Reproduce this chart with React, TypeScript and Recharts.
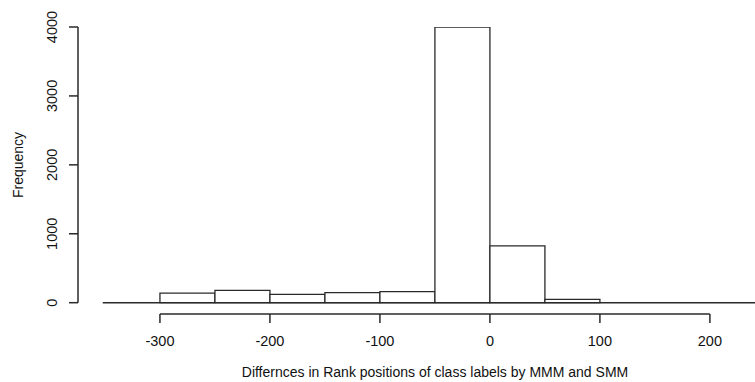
import React from 'react';
import { BarChart, Bar, XAxis, YAxis, ReferenceLine } from 'recharts';

const binMids = [-275, -225, -175, -125, -75, -25, 25, 75];
const frequencies = [140, 180, 120, 145, 160, 4000, 825, 48];
const xTicks = [-300, -200, -100, 0, 100, 200];
const yTicks = [0, 1000, 2000, 3000, 4000];
const xTitle = 'Differnces in Rank positions of class labels by MMM and SMM';
const yTitle = 'Frequency';

const data = binMids.map((m, i) => ({ mid: m, freq: frequencies[i] }));

const FONT = '"Liberation Sans", Arial, Helvetica, sans-serif';
const INK = '#2a2a2a';
const TXT = '#111';

const XTick = (props: any) => {
  const { x, y, payload } = props;
  return (
    <text x={x} y={y + 16} textAnchor="middle" dominantBaseline="central" fontFamily={FONT} fontSize={14.5} fill={TXT}>
      {payload.value}
    </text>
  );
};

const YTick = (props: any) => {
  const { x, y, payload } = props;
  const cx = x - 17;
  return (
    <text x={cx} y={y} textAnchor="middle" dominantBaseline="central" fontFamily={FONT} fontSize={14.5} fill={TXT} transform={`rotate(-90 ${cx} ${y})`}>
      {payload.value}
    </text>
  );
};

export default function App() {
  return (
    <div style={{ position: 'absolute', left: 0, top: 0, background: '#fff' }}>
      <BarChart
        width={755}
        height={382}
        data={data}
        margin={{ top: 27, right: 0, bottom: 0, left: 0 }}
        barCategoryGap={0}
        barGap={0}
      >
        <XAxis
          dataKey="mid"
          type="number"
          domain={[-374.5, 241]}
          allowDataOverflow
          ticks={xTicks}
          interval={0}
          height={68}
          axisLine={false}
          tickLine={{ stroke: INK, strokeWidth: 1.5 }}
          tickSize={9}
          tickMargin={2}
          tick={<XTick />}
          label={{
            content: () => (
              <text x={435} y={372} textAnchor="middle" dominantBaseline="central" fontFamily={FONT} fontSize={14} fill={TXT}>
                {xTitle}
              </text>
            ),
          }}
        />
        <YAxis
          type="number"
          domain={[-164, 4000]}
          allowDataOverflow
          ticks={yTicks}
          interval={0}
          width={78}
          axisLine={false}
          tickLine={{ stroke: INK, strokeWidth: 1.5 }}
          tickSize={9}
          tickMargin={0}
          tick={<YTick />}
          label={{
            content: () => (
              <text x={18} y={165} textAnchor="middle" dominantBaseline="central" fontFamily={FONT} fontSize={14} fill={TXT} transform="rotate(-90 18 165)">
                {yTitle}
              </text>
            ),
          }}
        />
        <ReferenceLine segment={[{ x: -374.5, y: 0 }, { x: -374.5, y: 4000 }]} stroke={INK} strokeWidth={1.5} />
        <ReferenceLine segment={[{ x: -300, y: -164 }, { x: 200, y: -164 }]} stroke={INK} strokeWidth={1.5} />
        <ReferenceLine segment={[{ x: -352, y: 0 }, { x: 241, y: 0 }]} stroke={INK} strokeWidth={1.5} />
        <Bar dataKey="freq" fill="#fff" stroke={INK} strokeWidth={1.3} isAnimationActive={false} />
      </BarChart>
    </div>
  );
}
